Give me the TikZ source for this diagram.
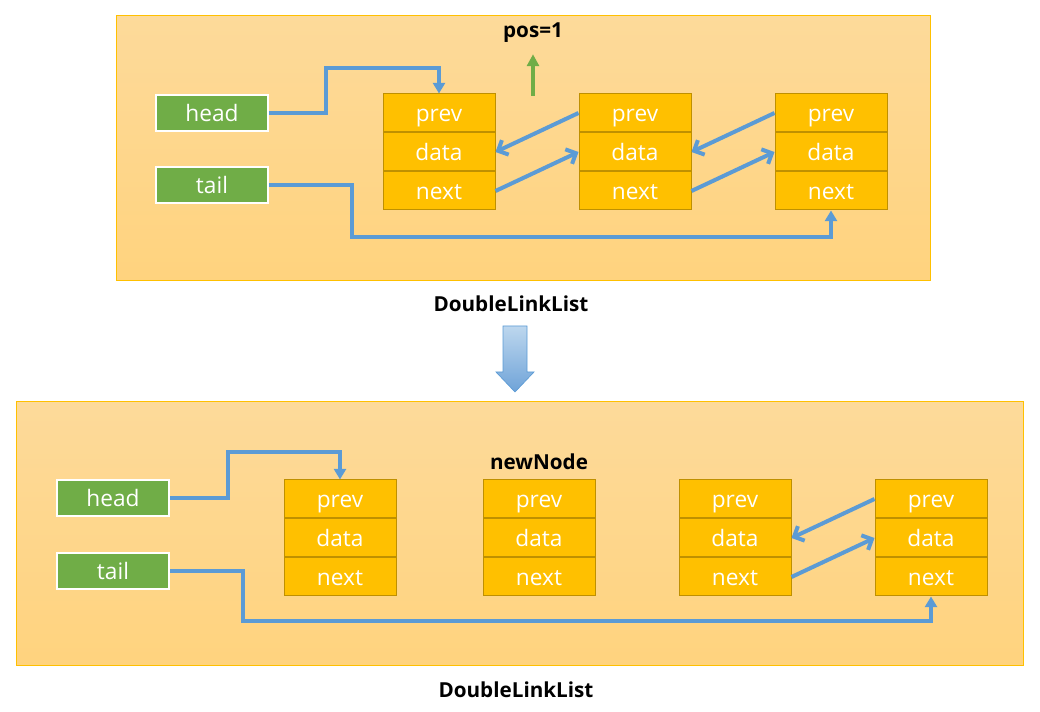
\documentclass[tikz,border=0pt]{standalone}
\usepackage{fontspec}
\setmainfont{Open Sans}
\usetikzlibrary{arrows.meta,positioning,calc}

\definecolor{paneltop}{HTML}{FDDA9A}
\definecolor{panelbot}{HTML}{FFD37E}
\definecolor{panelline}{HTML}{FFC000}
\definecolor{fieldfill}{HTML}{FFC000}
\definecolor{fieldline}{HTML}{BF9000}
\definecolor{ptrgreen}{HTML}{70AD47}
\definecolor{linkblue}{HTML}{5B9BD5}
\definecolor{arrowtop}{HTML}{BDD7EE}
\definecolor{arrowbot}{HTML}{6FA3D8}

\tikzset{
  panel/.style={draw=panelline,line width=0.75pt,top color=paneltop,bottom color=panelbot},
  field/.style={draw=fieldline,fill=fieldfill,line width=0.75pt,text=white,
    minimum width=84pt,minimum height=28.5pt,inner sep=0pt,
    text height=14pt,text depth=0.5pt,
    font=\fontsize{17}{18}\selectfont},
  ptr/.style={draw=white,fill=ptrgreen,line width=1.6pt,text=white,
    minimum width=84pt,minimum height=27.5pt,inner sep=0pt,
    text height=14pt,text depth=0.5pt,
    font=\fontsize{17}{18}\selectfont},
  caption/.style={font=\bfseries\fontsize{15.5}{17}\selectfont},
  link/.style={draw=linkblue,line width=3pt,-{Straight Barb[length=6pt,width=12pt,line width=3pt]}},
  ptrlink/.style={draw=linkblue,line width=3pt,-{Triangle[length=8pt,width=9pt]}}
}

\begin{document}
\begin{tikzpicture}[x=0.75pt,y=-0.75pt]
  \useasboundingbox (0,0) rectangle (1040,712);

  % before
  \draw[panel] (116,16) rectangle (930,281);
  \node[caption] (cap1) at (511,304) {DoubleLinkList};

  \node[ptr] (head1) at (212,113) {head};
  \node[ptr] (tail1) at (212,185) {tail};

  \foreach \name/\cx in {a/439,b/635,c/831} {
    \node[field] (\name-p) at (\cx,113) {prev};
    \node[field,below=0pt of \name-p] (\name-d) {data};
    \node[field,below=0pt of \name-d] (\name-n) {next};
  }

  \node[caption] (pos) at (533,33) {pos=1};
  \coordinate (posbase) at (533,96);
  \draw[draw=ptrgreen,line width=3pt,-{Triangle[length=9pt,width=9pt]}] (posbase) -- ([yshift=-5pt]pos.south);

  \draw[ptrlink] (head1.east) -- ++(57,0) |- ([yshift=18.75pt]a-p.north) -- (a-p.north);
  \draw[ptrlink] (tail1.east) -- ++(83,0) |- ([yshift=-20.25pt]c-n.south) -- (c-n.south);

  \draw[link] (b-p.west) -- (a-d.east);
  \draw[link] (a-n.east) -- (b-d.west);
  \draw[link] (c-p.west) -- (b-d.east);
  \draw[link] (b-n.east) -- (c-d.west);

  % step arrow
  \shade[top color=arrowtop,bottom color=arrowbot,draw=linkblue,line width=0.5pt]
    (503,326) -- (527,326) -- (527,372) -- (534,372) -- (515,392) -- (496,372) -- (503,372) -- cycle;

  % after
  \draw[panel] (16,402) rectangle (1023,666);
  \node[caption] (cap2) at (516,690) {DoubleLinkList};

  \node[ptr] (head2) at (113,498) {head};
  \node[ptr] (tail2) at (113,571) {tail};

  \foreach \name/\cx in {e/340,f/539,g/735,h/931} {
    \node[field] (\name-p) at (\cx,499) {prev};
    \node[field,below=0pt of \name-p] (\name-d) {data};
    \node[field,below=0pt of \name-d] (\name-n) {next};
  }
  \node[caption,above=4pt of f-p] (newnode) {newNode};

  \draw[ptrlink] (head2.east) -- ++(58,0) |- ([yshift=20.25pt]e-p.north) -- (e-p.north);
  \draw[ptrlink] (tail2.east) -- ++(73,0) |- ([yshift=-18.75pt]h-n.south) -- (h-n.south);

  \draw[link] (h-p.west) -- (g-d.east);
  \draw[link] (g-n.east) -- (h-d.west);
\end{tikzpicture}
\end{document}
